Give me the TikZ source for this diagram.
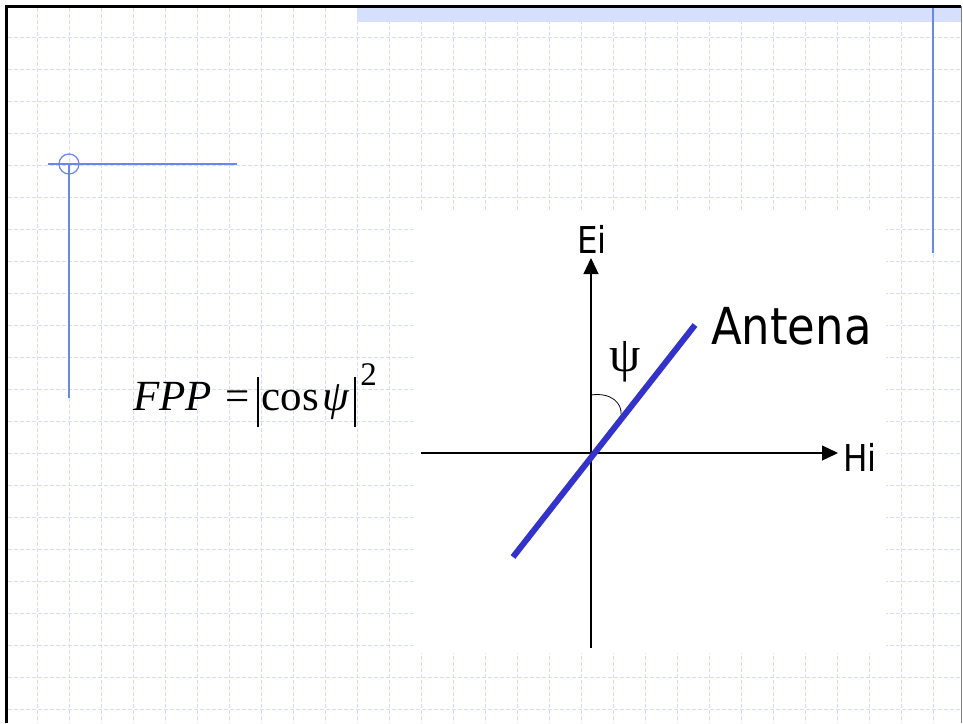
\documentclass[tikz,border=0pt]{standalone}
\usepackage{fontspec}
\setmainfont{Liberation Serif}
\newfontfamily\tahoma[FakeStretch=0.88]{DejaVu Sans}
\usetikzlibrary{arrows.meta}
\definecolor{gridlav}{RGB}{216,221,247}
\definecolor{bandblue}{RGB}{214,223,251}
\definecolor{decoblue}{RGB}{105,135,232}
\definecolor{antblue}{RGB}{51,51,204}
\tikzset{
  gridline/.style={gridlav, line width=0.8pt, dash pattern=on 4pt off 2pt},
  deco/.style={decoblue, line width=1.2pt},
  axis/.style={black, line width=1.2pt, -{Triangle[length=16pt,width=15pt]}},
  axlabel/.style={font=\tahoma\fontsize{37}{37}\selectfont, inner sep=0pt},
}
\begin{document}
\begin{tikzpicture}[x=1pt,y=-1pt]
\useasboundingbox (0,0) rectangle (963,723);
\fill[white] (0,0) rectangle (963,723);
% slide grid
\foreach \i in {0,...,28}
  \draw[gridline] (37.3+32*\i,8) -- (37.3+32*\i,723);
\foreach \i in {0,...,21}
  \draw[gridline] (8,37.3+32*\i) -- (961,37.3+32*\i);
\fill[white] (413,210) rectangle (886,653);
% frame and title band
\fill[bandblue] (357,8) rectangle (961,22);
\draw[black, line width=3pt] (6,723) -- (6,6.5) -- (961,6.5);
\draw[gray, line width=1pt] (961.5,6) -- (961.5,723);
\draw[deco] (933,8) -- (933,253);
% corner mark
\draw[deco] (48,164) -- (237,164);
\draw[deco] (69,164) -- (69,398);
\draw[deco] (69,164) circle (10);
% formula
\node[anchor=base west, inner sep=0pt] (fpp) at (133,410)
  {\fontsize{43}{43}\selectfont\textit{FPP}\kern13pt=\kern8pt\rule[-17pt]{2.2pt}{50pt}\kern2pt cos\kern4pt\textit{ψ}\kern4pt\rule[-17pt]{2.2pt}{50pt}\kern4pt\raisebox{25pt}{\fontsize{33}{33}\selectfont 2}};
% axes
\coordinate (O) at (591,453);
\coordinate (ebot) at (591,648);
\coordinate (etop) at (591,258);
\coordinate (hleft) at (421,453);
\coordinate (hright) at (838,453);
\draw[axis] (ebot) -- (etop);
\draw[axis] (hleft) -- (hright);
\node[axlabel] (ei) at (592,239) {Ei};
\node[axlabel, anchor=west] (hi) at (843,457) {Hi};
% antenna
\coordinate (alow) at (513,557);
\coordinate (ahigh) at (695,325);
\draw[antblue, line width=6pt] (alow) -- (ahigh);
\node[font=\tahoma\fontsize{51}{51}\selectfont, inner sep=0pt, anchor=west] (ant) at (711,326) {Antena};
% angle
\draw[black, line width=0.8pt] (591,395) .. controls (612,392) and (622,404) .. (621,414);
\node[font=\fontsize{50}{50}\selectfont, inner sep=0pt] (psi) at (625,362) {ψ};
\end{tikzpicture}
\end{document}
